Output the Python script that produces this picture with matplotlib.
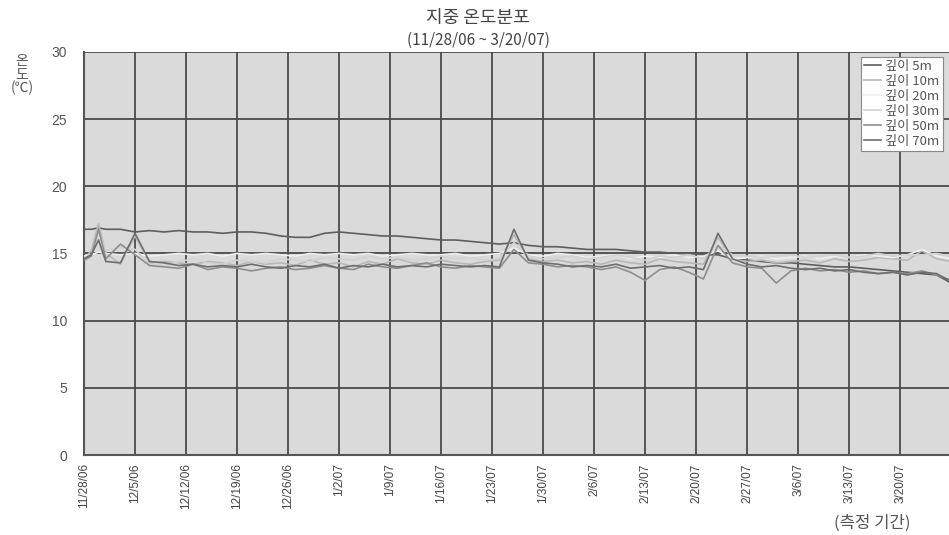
import matplotlib
matplotlib.use('Agg')
import matplotlib.pyplot as plt

plt.rcParams['font.family'] = ['Noto Sans CJK KR', 'DejaVu Sans']

# days since 11/28/06
days = [0, 1, 2, 3, 5, 7, 9, 11, 13, 15, 17, 19, 21, 23, 25, 27, 29, 31, 33, 35,
        37, 39, 41, 43, 45, 47, 49, 51, 53, 55, 57, 59, 61, 63, 65, 67, 69, 71, 73, 75,
        77, 79, 81, 83, 85, 87, 89, 91, 93, 95, 97, 99, 101, 103, 105, 107, 109, 111, 113, 115,
        117, 119]

d5 = [16.8, 16.8, 16.9, 16.8, 16.8, 16.6, 16.7, 16.6, 16.7, 16.6, 16.6, 16.5, 16.6, 16.6, 16.5, 16.3, 16.2, 16.2, 16.5, 16.6,
      16.5, 16.4, 16.3, 16.3, 16.2, 16.1, 16.0, 16.0, 15.9, 15.8, 15.7, 15.8, 15.6, 15.5, 15.5, 15.4, 15.3, 15.3, 15.3, 15.2,
      15.1, 15.1, 15.0, 15.0, 14.9, 14.9, 14.6, 14.5, 14.4, 14.3, 14.3, 14.2, 14.1, 14.0, 14.0, 13.9, 13.8, 13.7, 13.6, 13.5,
      13.4, 12.8]
d10 = [14.6, 15.2, 17.2, 15.0, 14.2, 16.3, 14.3, 14.4, 14.3, 14.2, 14.4, 14.3, 14.1, 14.4, 14.2, 14.3, 14.1, 14.5, 14.2, 14.3,
       14.0, 14.4, 14.2, 14.6, 14.3, 14.2, 14.5, 14.3, 14.2, 14.4, 14.5, 16.4, 14.6, 14.4, 14.5, 14.3, 14.4, 14.2, 14.5, 14.3,
       14.2, 14.6, 14.4, 14.3, 14.2, 16.2, 14.6, 14.4, 14.5, 14.3, 14.4, 14.5, 14.3, 14.6, 14.4, 14.5, 14.7, 14.6, 14.5, 15.2,
       14.6, 14.4]
d20 = [14.8, 14.9, 15.1, 15.0, 14.9, 15.0, 14.8, 14.9, 15.0, 14.9, 15.0, 14.8, 15.0, 14.9, 15.0, 14.9, 14.8, 15.0, 14.9, 15.0,
       14.9, 15.0, 14.8, 14.9, 15.0, 14.9, 14.9, 15.0, 14.8, 14.9, 15.0, 15.4, 14.9, 14.8, 15.0, 14.9, 14.7, 14.8, 14.9, 14.6,
       14.8, 14.7, 14.9, 14.7, 14.8, 15.2, 14.6, 14.7, 14.8, 14.6, 14.7, 14.8, 14.6, 14.8, 14.7, 14.9, 14.8, 14.7, 14.9, 15.3,
       14.8, 14.6]
d30 = [14.7, 14.9, 16.6, 15.2, 15.5, 15.3, 14.2, 14.1, 14.4, 14.6, 14.3, 14.2, 14.5, 14.4, 14.3, 14.6, 14.5, 14.4, 14.7, 14.6,
       14.5, 14.8, 14.6, 14.7, 14.5, 14.6, 14.8, 14.6, 14.7, 14.5, 14.6, 15.8, 14.8, 14.6, 14.7, 14.8, 14.6, 14.7, 14.9, 14.7,
       14.5, 14.8, 14.7, 14.9, 14.6, 15.6, 14.9, 14.8, 14.7, 14.8, 14.9, 14.7, 14.8, 14.9, 14.7, 14.8, 15.0, 14.8, 14.9, 14.9,
       15.0, 14.8]
d50 = [14.5, 14.8, 16.8, 14.6, 15.7, 14.9, 14.1, 14.0, 13.9, 14.2, 13.8, 14.0, 13.9, 13.7, 13.9, 14.0, 13.8, 13.9, 14.1, 13.9,
       13.8, 14.2, 14.0, 13.9, 14.1, 14.3, 14.0, 13.9, 14.1, 14.0, 13.9, 15.3, 14.3, 14.2, 14.0, 14.1, 14.0, 13.8, 14.0, 13.6,
       13.0, 13.8, 14.0, 13.6, 13.1, 15.6, 14.3, 14.0, 13.9, 12.8, 13.7, 13.9, 13.7, 13.8, 13.6, 13.7, 13.5, 13.6, 13.5, 13.7,
       13.4, 13.0]
d70 = [14.6, 14.9, 16.0, 14.4, 14.3, 16.5, 14.4, 14.3, 14.1, 14.2, 14.0, 14.1, 14.0, 14.2, 14.0, 13.9, 14.1, 14.0, 14.2, 13.9,
       14.1, 14.0, 14.2, 14.0, 14.1, 14.0, 14.2, 14.1, 14.0, 14.1, 14.0, 16.8, 14.5, 14.3, 14.2, 14.0, 14.1, 14.0, 14.2, 13.9,
       14.0, 14.1, 13.9, 14.0, 13.8, 16.5, 14.6, 14.2, 14.0, 14.1, 13.9, 13.8, 13.9, 13.7, 13.8, 13.6, 13.5, 13.6, 13.4, 13.6,
       13.5, 12.9]

tick_days = [0, 7, 14, 21, 28, 35, 42, 49, 56, 63, 70, 77, 84, 91, 98, 105, 112]
tick_labels = ['11/28/06', '12/5/06', '12/12/06', '12/19/06', '12/26/06', '1/2/07', '1/9/07',
               '1/16/07', '1/23/07', '1/30/07', '2/6/07', '2/13/07', '2/20/07', '2/27/07',
               '3/6/07', '3/13/07', '3/20/07']

series = [
    ('깊이 5m', d5, '#5e5e5e'),
    ('깊이 10m', d10, '#b8b8b8'),
    ('깊이 20m', d20, '#efefef'),
    ('깊이 30m', d30, '#d2d2d2'),
    ('깊이 50m', d50, '#8e8e8e'),
    ('깊이 70m', d70, '#6e6e6e'),
]

fig = plt.figure(figsize=(9.49, 5.35), dpi=100)
ax = fig.add_axes([0.0885, 0.1495, 0.9115, 0.7535])
ax.set_facecolor('#dadada')

for lab, vals, col in series:
    ax.plot(days, vals, color=col, lw=1.2, label=lab, zorder=3)

ax.set_xlim(0, 118.7)
ax.set_ylim(0, 30)
ax.set_yticks(range(0, 31, 5))
ax.set_xticks(tick_days)
ax.set_xticklabels(tick_labels, rotation=90, fontsize=8.5, color='#444444',
                   family=['Liberation Sans', 'DejaVu Sans'])
ax.tick_params(axis='y', labelsize=10, colors='#555555', length=0, pad=12)
ax.tick_params(axis='x', length=0, pad=6)
for lbl in ax.get_yticklabels():
    lbl.set_family(['Liberation Sans', 'DejaVu Sans'])
ax.grid(True, color='#4a4a4a', lw=1.3, zorder=1)
ax.set_axisbelow(True)
for s in ['top', 'right']:
    ax.spines[s].set_visible(False)
for s in ['left', 'bottom']:
    ax.spines[s].set_color('#555555')
    ax.spines[s].set_linewidth(1.5)

leg = ax.legend(loc='upper right', bbox_to_anchor=(0.993, 0.988), fontsize=9.5,
                handlelength=1.3, handletextpad=0.3, labelspacing=0.15,
                borderaxespad=0, fancybox=False, framealpha=1, borderpad=0.25)
leg.get_frame().set_edgecolor('#888888')
leg.get_frame().set_linewidth(0.8)
for t in leg.get_texts():
    t.set_color('#555555')

fig.text(0.504, 0.966, '지중 온도분포', ha='center', va='center', fontsize=13, color='#444444')
fig.text(0.504, 0.925, '(11/28/06 ~ 3/20/07)', ha='center', va='center', fontsize=11, color='#444444')
fig.text(0.023, 0.86, '온\n도\n(℃)', ha='center', va='center', fontsize=10,
         color='#555555', linespacing=0.95)
fig.text(0.919, 0.022, '(측정 기간)', ha='center', va='center', fontsize=12, color='#555555')

fig.savefig('out.png', dpi=100)
